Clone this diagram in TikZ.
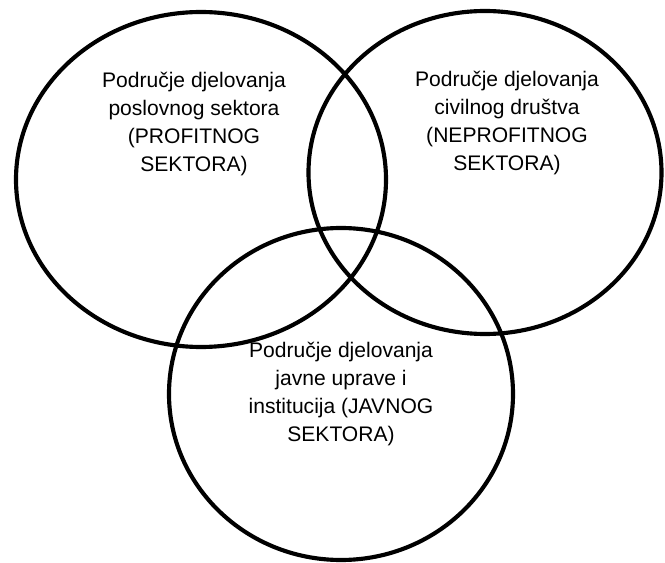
\documentclass[tikz,border=0pt]{standalone}
\usepackage{fontspec}
\setmainfont{Liberation Sans}
\usetikzlibrary{positioning}

\tikzset{
  venn/.style={line width=3.1pt, black},
  sektor/.style={align=center, inner sep=0pt, font=\fontsize{15.8}{21}\selectfont}
}

\begin{document}
\begin{tikzpicture}[x=0.75pt, y=-0.75pt]
			\useasboundingbox (0,0) rectangle (665,563);
			\draw[venn] (201,179.5) ellipse [x radius=185, y radius=167.5];
			\draw[venn] (485,172.5) ellipse [x radius=176.5, y radius=161.5];
			\draw[venn] (341,394) ellipse [x radius=172, y radius=166];
			\node[sektor] (profitni) at (194,124) {Područje djelovanja\\poslovnog sektora\\(PROFITNOG\\SEKTORA)};
			\node[sektor] (neprofitni) at (507,123) {Područje djelovanja\\civilnog društva\\(NEPROFITNOG\\SEKTORA)};
			\node[sektor] (javni) at (341,394) {Područje djelovanja\\javne uprave i\\institucija (JAVNOG\\SEKTORA)};
		\end{tikzpicture}
\end{document}
